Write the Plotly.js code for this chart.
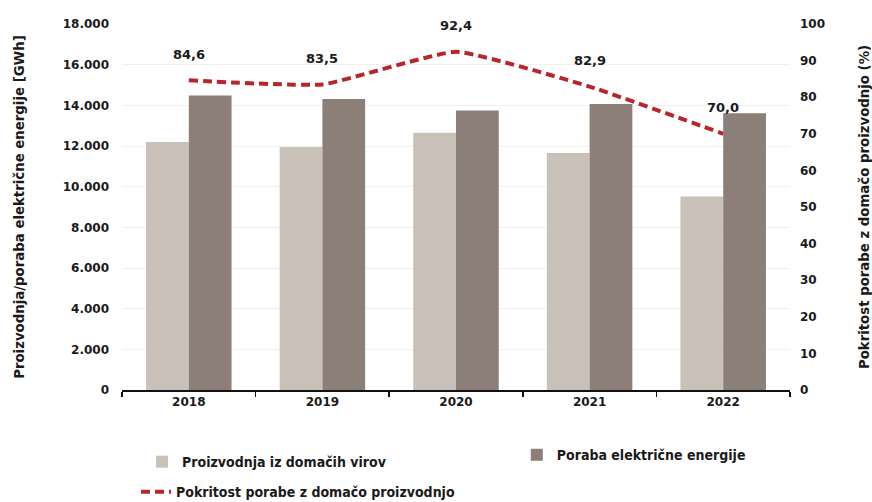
<!DOCTYPE html>
<html>
<head>
<meta charset="utf-8">
<script src="https://cdn.plot.ly/plotly-3.0.1.min.js"></script>
<style>
  html, body { margin: 0; padding: 0; background: #ffffff; }
  #chart { width: 872px; height: 502px; }
</style>
</head>
<body>
<div id="chart"></div>
<script>
// ---- data ----
var years = ['2018', '2019', '2020', '2021', '2022'];
var production = [12200, 11950, 12650, 11650, 9520];   // Proizvodnja iz domačih virov (GWh)
var consumption = [14480, 14310, 13750, 14070, 13610]; // Poraba električne energije (GWh)
var coverage = [84.6, 83.5, 92.4, 82.9, 70.0];         // Pokritost porabe z domačo proizvodnjo (%)
var leftTicks = [0, 2000, 4000, 6000, 8000, 10000, 12000, 14000, 16000, 18000];
var rightTicks = [0, 10, 20, 30, 40, 50, 60, 70, 80, 90, 100];

var seriesNames = [
  'Proizvodnja iz domačih virov',
  'Poraba električne energije',
  'Pokritost porabe z domačo proizvodnjo'
];

var FONT = 'DejaVu Sans, Liberation Sans, sans-serif';
var FONTC = 'DejaVu Sans Condensed, DejaVu Sans, sans-serif';
var TXT = '#1a1a1a';

var traces = [
  {
    type: 'bar', x: years, y: production, name: seriesNames[0],
    marker: { color: '#c9c0b7' }, legend: 'legend', hoverinfo: 'skip'
  },
  {
    type: 'bar', x: years, y: consumption, name: seriesNames[1],
    marker: { color: '#8b7f78' }, legend: 'legend3', hoverinfo: 'skip'
  },
  {
    type: 'scatter', mode: 'lines', x: years, y: coverage, yaxis: 'y2',
    name: seriesNames[2], legend: 'legend2',
    line: { color: '#b8262d', width: 4, dash: '9px,5px', shape: 'spline', smoothing: 0.4 },
    hoverinfo: 'skip'
  }
];

// annotation x given as category index (numeric-looking category strings would be read as indices)
var annotations = years.map(function (yr, i) {
  return {
    x: i, y: coverage[i], xref: 'x', yref: 'y2',
    text: coverage[i].toFixed(1).replace('.', ','),
    showarrow: false, yshift: 26,
    font: { family: FONT, size: 13, color: TXT, weight: 'bold' }
  };
});

var legendFont = { family: FONTC, size: 14, color: TXT, weight: 'bold' };

var layout = {
  width: 872, height: 502,
  margin: { l: 122, r: 82, t: 24, b: 112, autoexpand: false },
  paper_bgcolor: '#ffffff', plot_bgcolor: '#ffffff',
  separators: ',.',
  font: { family: FONT, color: TXT },
  barmode: 'group', bargap: 0.36, bargroupgap: 0,
  xaxis: {
    type: 'category', range: [-0.5, years.length - 0.5],
    tickson: 'boundaries', ticks: 'outside', ticklen: 5, tickwidth: 1.5, tickcolor: '#111',
    showline: true, linecolor: '#111', linewidth: 2,
    showgrid: false,
    tickfont: { family: FONT, size: 12, color: TXT, weight: 'bold' }
  },
  yaxis: {
    range: [0, 18000], tickvals: leftTicks, tickformat: ',d',
    showgrid: true, gridcolor: '#f0f0f0', gridwidth: 1,
    zeroline: false, showline: false, ticks: '',
    ticklabelstandoff: 12,
    tickfont: { family: FONT, size: 12, color: TXT, weight: 'bold' },
    title: {
      text: 'Proizvodnja/poraba električne energije [GWh]',
      font: { family: FONT, size: 13.3, color: TXT, weight: 'bold' },
      standoff: 35
    }
  },
  yaxis2: {
    overlaying: 'y', side: 'right',
    range: [0, 100], tickvals: rightTicks,
    showgrid: false, zeroline: false, showline: false, ticks: '',
    ticklabelstandoff: 9,
    tickfont: { family: FONT, size: 12, color: TXT, weight: 'bold' },
    title: {
      text: 'Pokritost porabe z domačo proizvodnjo (%)',
      font: { family: FONT, size: 13.3, color: TXT, weight: 'bold' },
      standoff: 38
    }
  },
  showlegend: true,
  legend: {
    orientation: 'h', x: 0.030, xanchor: 'left', y: -0.197, yanchor: 'middle',
    font: legendFont, bgcolor: 'rgba(0,0,0,0)'
  },
  legend3: {
    orientation: 'h', x: 0.591, xanchor: 'left', y: -0.178, yanchor: 'middle',
    font: legendFont, bgcolor: 'rgba(0,0,0,0)'
  },
  legend2: {
    orientation: 'h', x: 0.021, xanchor: 'left', y: -0.279, yanchor: 'middle',
    font: legendFont, bgcolor: 'rgba(0,0,0,0)'
  },
  annotations: annotations
};

Plotly.newPlot('chart', traces, layout, { displayModeBar: false, staticPlot: true });
</script>
</body>
</html>
